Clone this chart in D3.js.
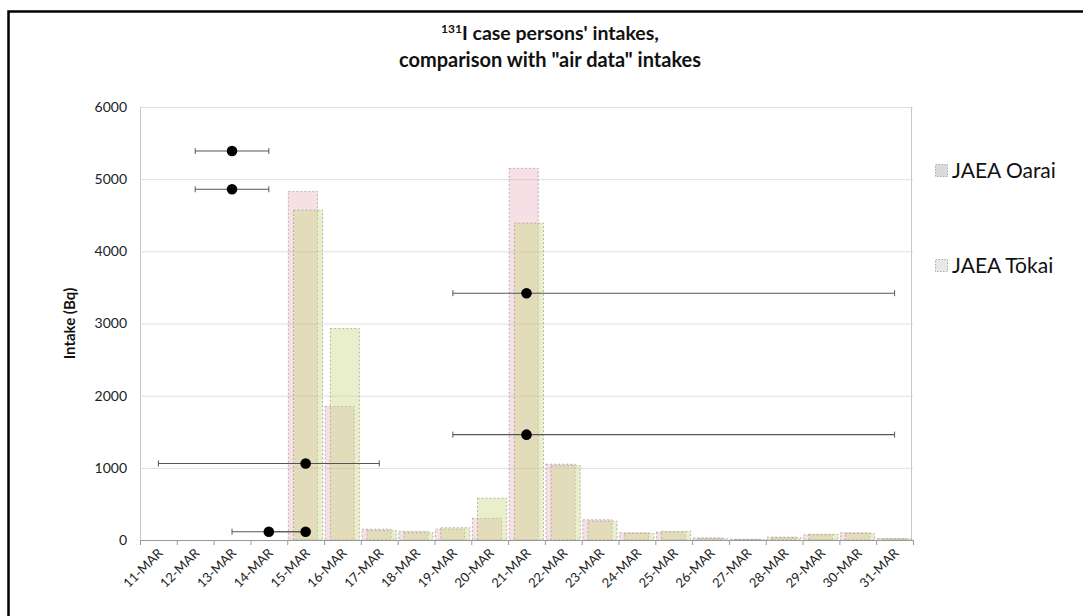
<!DOCTYPE html>
<html>
<head>
<meta charset="utf-8">
<script src="https://cdn.jsdelivr.net/npm/d3@7"></script>
<style>
  html, body { margin: 0; padding: 0; background: #fff; }
  svg { display: block; font-family: Lato, "Open Sans", sans-serif; }
</style>
</head>
<body>
<svg id="chart" width="1083" height="616"></svg>
<script>
// Daily dates on the category axis
const dates = ["11-MAR","12-MAR","13-MAR","14-MAR","15-MAR","16-MAR","17-MAR","18-MAR","19-MAR","20-MAR",
               "21-MAR","22-MAR","23-MAR","24-MAR","25-MAR","26-MAR","27-MAR","28-MAR","29-MAR","30-MAR","31-MAR"];

// "Air data" intakes (Bq) per day at each monitoring station
const oaraiValues = [0, 0, 0, 0, 4830, 1850, 150, 120, 150, 300, 5150, 1050, 280, 100, 110, 30, 10, 40, 70, 100, 20];
const tokaiValues = [0, 0, 0, 0, 4570, 2930, 130, 100, 170, 580, 4390, 1030, 260, 90, 120, 20, 5, 30, 80, 90, 15];

// Case persons' intakes (Bq) with the date range of possible intake
const caseDates  = ["13-MAR", "13-MAR", "15-MAR", "14-MAR", "15-MAR", "21-MAR", "21-MAR"];
const caseValues = [5390, 4860, 1060, 115, 115, 3420, 1460];
const caseFrom   = ["12-MAR", "12-MAR", "11-MAR", "13-MAR", "14-MAR", "19-MAR", "19-MAR"];
const caseTo     = ["14-MAR", "14-MAR", "17-MAR", "15-MAR", "15-MAR", "31-MAR", "31-MAR"];

const yTicks = [0, 1000, 2000, 3000, 4000, 5000, 6000];
const seriesNames = ["JAEA Oarai", "JAEA Tōkai"];

const svg = d3.select("#chart");
const plotLeft = 140, plotRight = 913, plotTop = 107, plotBottom = 540;

const x = d3.scaleBand().domain(dates).range([plotLeft, plotRight]).padding(0);
const y = d3.scaleLinear().domain([0, 6000]).range([plotBottom, plotTop]);
const cx = d => x(d) + x.bandwidth() / 2;

// Outer frame (left and top edges)
svg.append("path")
  .attr("d", `M8.5,616 V11.5 H1083`)
  .attr("fill", "none").attr("stroke", "#000").attr("stroke-width", 2.5);

// Title
const title = svg.append("text")
  .attr("x", 550).attr("y", 40)
  .attr("text-anchor", "middle")
  .attr("font-size", 19.5).attr("font-weight", "bold").attr("fill", "#111");
title.append("tspan").attr("font-size", 12).attr("dy", -7).text("131");
title.append("tspan").attr("dy", 7).text("I case persons' intakes,");
svg.append("text")
  .attr("x", 550).attr("y", 67)
  .attr("text-anchor", "middle")
  .attr("font-size", 20).attr("font-weight", "bold").attr("fill", "#111")
  .text("comparison with \"air data\" intakes");

// Gridlines
svg.append("g")
  .selectAll("line").data(yTicks.filter(t => t > 0)).join("line")
  .attr("x1", plotLeft).attr("x2", plotRight)
  .attr("y1", d => y(d) + 0.5).attr("y2", d => y(d) + 0.5)
  .attr("stroke", "#dedede").attr("stroke-width", 1);

// Plot-area side borders
svg.append("line").attr("x1", plotLeft + 0.5).attr("x2", plotLeft + 0.5).attr("y1", plotTop).attr("y2", plotBottom)
  .attr("stroke", "#c8c8c8");
svg.append("line").attr("x1", plotRight - 1.5).attr("x2", plotRight - 1.5).attr("y1", plotTop).attr("y2", plotBottom)
  .attr("stroke", "#c8c8c8");

// Y axis labels
const yAxis = svg.append("g")
  .attr("transform", `translate(${plotLeft},0)`)
  .call(d3.axisLeft(y).tickValues(yTicks).tickSize(0).tickPadding(13).tickFormat(d3.format("d")));
yAxis.select(".domain").remove();
yAxis.selectAll("text").attr("font-size", 14).attr("fill", "#222")
  .attr("font-family", "Lato, 'Open Sans', sans-serif");

svg.append("text")
  .attr("transform", `translate(75,${(plotTop + plotBottom) / 2}) rotate(-90)`)
  .attr("text-anchor", "middle")
  .attr("font-size", 15).attr("font-weight", "bold").attr("fill", "#111")
  .text("Intake (Bq)");

// Bars: two overlapping translucent series per day
const bw = x.bandwidth();
const barW = bw * 0.79;
const series = [
  { name: seriesNames[0], values: oaraiValues, off: bw * 0.03, fill: "rgba(225,150,168,0.30)" },
  { name: seriesNames[1], values: tokaiValues, off: bw * 0.17, fill: "rgba(200,215,125,0.40)" }
];
series.forEach(s => {
  svg.append("g").selectAll("rect").data(dates.map((d, i) => ({ d, v: s.values[i] }))).join("rect")
    .attr("x", r => x(r.d) + s.off)
    .attr("y", r => y(r.v))
    .attr("width", barW)
    .attr("height", r => plotBottom - y(r.v))
    .attr("fill", s.fill)
    .attr("stroke", "#a8a398")
    .attr("stroke-width", 0.8)
    .attr("stroke-dasharray", "2,2");
});

// X axis
const xAxis = svg.append("g")
  .attr("transform", `translate(0,${plotBottom})`);
xAxis.append("line").attr("x1", plotLeft).attr("x2", plotRight).attr("y1", 0.5).attr("y2", 0.5)
  .attr("stroke", "#9a9a9a");
xAxis.selectAll("line.tick").data(dates.concat(["end"])).join("line")
  .attr("class", "tick")
  .attr("x1", (d, i) => plotLeft + i * bw + 0.5).attr("x2", (d, i) => plotLeft + i * bw + 0.5)
  .attr("y1", 0).attr("y2", 5)
  .attr("stroke", "#9a9a9a");
xAxis.selectAll("text").data(dates).join("text")
  .attr("transform", d => `translate(${cx(d) + 5},${14}) rotate(-45)`)
  .attr("text-anchor", "end")
  .attr("font-size", 13).attr("fill", "#222")
  .text(d => d);

// Case persons' intakes with intake-date ranges
const cases = caseDates.map((d, i) => ({ d, v: caseValues[i], from: caseFrom[i], to: caseTo[i] }));
const eb = svg.append("g");
eb.selectAll("line.range").data(cases).join("line")
  .attr("class", "range")
  .attr("x1", c => cx(c.from)).attr("x2", c => cx(c.to))
  .attr("y1", c => y(c.v)).attr("y2", c => y(c.v))
  .attr("stroke", "#555").attr("stroke-width", 1.1);
eb.selectAll("line.capL").data(cases).join("line")
  .attr("class", "capL")
  .attr("x1", c => cx(c.from)).attr("x2", c => cx(c.from))
  .attr("y1", c => y(c.v) - 3).attr("y2", c => y(c.v) + 3)
  .attr("stroke", "#555");
eb.selectAll("line.capR").data(cases).join("line")
  .attr("class", "capR")
  .attr("x1", c => cx(c.to)).attr("x2", c => cx(c.to))
  .attr("y1", c => y(c.v) - 3).attr("y2", c => y(c.v) + 3)
  .attr("stroke", "#555");
eb.selectAll("circle").data(cases).join("circle")
  .attr("cx", c => cx(c.d)).attr("cy", c => y(c.v))
  .attr("r", 5.3).attr("fill", "#000");

// Legend
const legendY = [178, 273];
const legend = svg.append("g");
series.forEach((s, i) => {
  legend.append("rect")
    .attr("x", 935.5).attr("y", legendY[i] - 13.5).attr("width", 12).attr("height", 12)
    .attr("fill", i === 0 ? "#dadada" : "#e8e8e8")
    .attr("stroke", "#999").attr("stroke-width", 0.8).attr("stroke-dasharray", "1.5,1.5");
  legend.append("text")
    .attr("x", 952).attr("y", legendY[i])
    .attr("font-size", 21).attr("fill", "#111")
    .text(s.name);
});
</script>
</body>
</html>
